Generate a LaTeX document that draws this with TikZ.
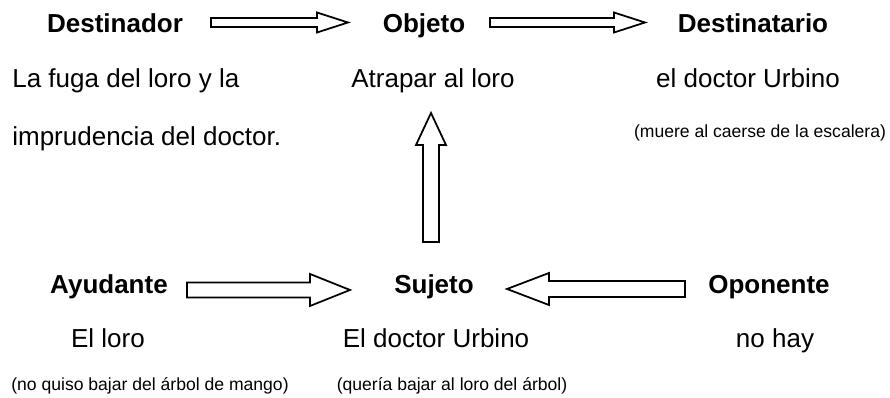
\documentclass[tikz,border=0pt]{standalone}
\usepackage{fontspec}
\setmainfont{Liberation Sans}
\usetikzlibrary{calc}

\newcommand{\blockarrow}[5]{%
  \coordinate (hb) at ($(#2)!#5!(#1)$);
  \draw[line width=1pt] ($(#1)!#3!90:(#2)$) -- ($(hb)!#3!90:(#2)$) -- ($(hb)!#4!90:(#2)$) -- (#2)
    -- ($(hb)!#4!-90:(#2)$) -- ($(hb)!#3!-90:(#2)$) -- ($(#1)!#3!-90:(#2)$) -- cycle;}

\begin{document}
\begin{tikzpicture}[x=0.02cm,y=-0.02cm,
    title/.style={font=\fontsize{14.8}{17}\selectfont\bfseries, anchor=base, inner sep=0},
    txt/.style={font=\fontsize{14.8}{17}\selectfont, anchor=base, inner sep=0},
    small/.style={font=\fontsize{10}{12}\selectfont, anchor=base, inner sep=0}]
            \useasboundingbox (0,0) rectangle (890,398);
            \node[title] (destinador) at (115,33) {Destinador};
            \node[title] (objeto) at (424,33) {Objeto};
            \node[title] (destinatario) at (753,33) {Destinatario};
            \node[txt, anchor=base west] (fuga) at (12,88) {La fuga del loro y la};
            \node[txt, anchor=base west] (imprudencia) at (12,146) {imprudencia del doctor.};
            \node[txt] (atrapar) at (433,88) {Atrapar al loro};
            \node[txt] (urbino) at (748,88) {el doctor Urbino};
            \node[small] (muere) at (760,138) {(muere al caerse de la escalera)};
            \node[title] (ayudante) at (109,294) {Ayudante};
            \node[title] (sujeto) at (434,294) {Sujeto};
            \node[title] (oponente) at (769,294) {Oponente};
            \node[txt] (loro) at (108,348) {El loro};
            \node[txt] (doctor) at (436,348) {El doctor Urbino};
            \node[txt] (nohay) at (775,348) {no hay};
            \node[small] (mango) at (150,391) {(no quiso bajar del árbol de mango)};
            \node[small] (arbol) at (452,391) {(quería bajar al loro del árbol)};
            \coordinate (a1s) at (211,22.5);
            \coordinate (a1e) at (348,22.5);
            \coordinate (a2s) at (490,22.5);
            \coordinate (a2e) at (645,22.5);
            \coordinate (a3s) at (431,242);
            \coordinate (a3e) at (431,113);
            \coordinate (a4s) at (187,290);
            \coordinate (a4e) at (350,290);
            \coordinate (a5s) at (685,289);
            \coordinate (a5e) at (507,289);
            \blockarrow{a1s}{a1e}{0.09cm}{0.2cm}{0.62cm}
            \blockarrow{a2s}{a2e}{0.09cm}{0.2cm}{0.62cm}
            \blockarrow{a3s}{a3e}{0.16cm}{0.3cm}{0.64cm}
            \blockarrow{a4s}{a4e}{0.15cm}{0.32cm}{0.8cm}
            \blockarrow{a5s}{a5e}{0.16cm}{0.32cm}{0.84cm}
        \end{tikzpicture}
\end{document}
